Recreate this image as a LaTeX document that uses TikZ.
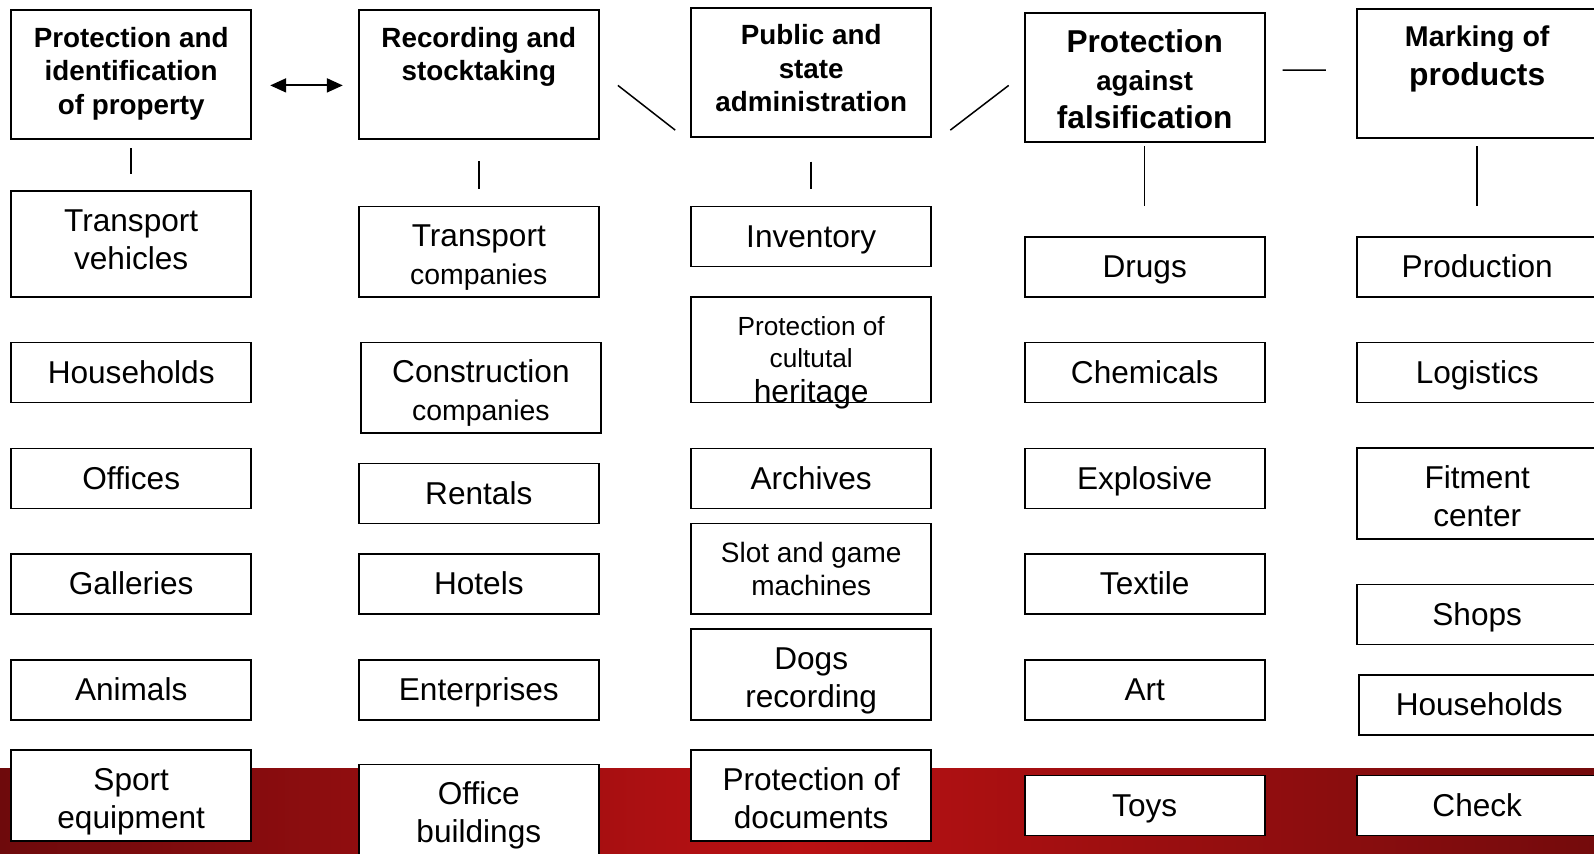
\documentclass[tikz,border=0pt]{standalone}
\usepackage{fontspec}
\setmainfont{Liberation Sans}
\usetikzlibrary{calc,arrows.meta}

\definecolor{bandL}{RGB}{110,10,12}
\definecolor{bandM}{RGB}{186,17,19}
\definecolor{bandR}{RGB}{116,11,12}

\newcommand{\headtext}[1]{\parbox[c][64.5pt][t]{118pt}{\centering\vspace*{8.5pt}#1}}
\newcommand{\smalltxt}{\fontsize{14.2}{19.2}\selectfont}
\newcommand{\itemstrut}{\rule[-4.2pt]{0pt}{19.2pt}}
\newcommand{\twolines}[2]{\raisebox{-1.5pt}[\height][\depth]{\parbox{118pt}{\centering\itemstrut#1\\#2\itemstrut}}}

\tikzset{
  head/.style={draw, fill=white, line width=0.8pt, inner sep=0pt, minimum width=120pt,
    minimum height=64.5pt, font=\bfseries\fontsize{13.9}{16.7}\selectfont},
  item/.style={draw, fill=white, line width=0.8pt, inner sep=1pt, minimum width=120pt,
    minimum height=30pt, align=center, font=\fontsize{15.8}{19.2}\selectfont,
    execute at begin node=\itemstrut, execute at end node=\itemstrut},
  tall/.style={item, minimum height=45.25pt},
  taller/.style={item, minimum height=52.85pt},
  link/.style={line width=0.75pt},
  >={Triangle[length=8pt,width=7pt]}
}

\begin{document}
\begin{tikzpicture}[x=0.5pt, y=-0.5pt]
  \clip (0,0) rectangle (1594,853);
  \fill[white] (0,0) rectangle (1594,853);
  % red band at the foot
  \shade[left color=bandL, right color=bandR, middle color=bandM] (0,768) rectangle (1594,853);

  % headers
  \node[head] (h1) at (131.2,74.7) {\headtext{Protection and\\identification\\of property}};
  \node[head] (h2) at (478.8,74.7) {\headtext{Recording and\\stocktaking}};
  \node[head] (h3) at (811.2,72.2) {\headtext{Public and\\state\\administration}};
  \node[head] (h4) at (1144.7,77.3) {\headtext{\fontsize{15.8}{19}\selectfont Protection\\{\fontsize{13.8}{19}\selectfont against}\\falsification}};
  \node[head] (h5) at (1477.2,73.7) {\headtext{\fontsize{14.3}{19.3}\selectfont Marking of\\{\fontsize{15.9}{19.3}\selectfont products}}};

  % column 1
  \node[taller] (a1) at (131.2,244) {Transport\\vehicles};
  \node[item] (a2) at (131.2,372.6) {Households};
  \node[item] (a3) at (131.2,478.3) {Offices};
  \node[item] (a4) at (131.2,584) {Galleries};
  \node[item] (a5) at (131.2,689.8) {Animals};
  \node[tall] (a6) at (131.2,795.5) {\twolines{Sport}{equipment}};

  % column 2
  \node[tall] (b1) at (478.8,251.6) {\twolines{Transport}{{\smalltxt companies}}};
  \node[tall] (b2) at (480.9,387.8) {\twolines{Construction}{{\smalltxt companies}}};
  \node[item] (b3) at (478.8,493.5) {Rentals};
  \node[item] (b4) at (478.8,584) {Hotels};
  \node[item] (b5) at (478.8,689.8) {Enterprises};
  \node[tall] (b6) at (478.8,809.7) {\twolines{Office}{buildings}};

  % column 3
  \node[item] (c1) at (811.2,236.4) {Inventory};
  \node[taller] (c2) at (811.2,349.7) {\raisebox{-6.5pt}[\height][\depth]{\parbox{116pt}{\centering\fontsize{13.1}{16}\selectfont Protection of\\cultutal\\[1.8pt]{\fontsize{15.9}{18}\selectfont heritage}}}};
  \node[item] (c3) at (811.2,478.3) {Archives};
  \node[tall, font=\fontsize{14}{16.3}\selectfont] (c4) at (811.2,568.8) {\raisebox{0.3pt}[\height][\depth]{\parbox{118pt}{\centering\itemstrut Slot and game\\machines\rule[-4.2pt]{0pt}{0pt}}}};
  \node[tall] (c5) at (811.2,674.5) {\twolines{Dogs}{recording}};
  \node[tall] (c6) at (811.2,795.5) {\twolines{Protection of}{documents}};

  % column 4
  \node[item] (d1) at (1144.7,266.9) {Drugs};
  \node[item] (d2) at (1144.7,372.6) {Chemicals};
  \node[item] (d3) at (1144.7,478.3) {Explosive};
  \node[item] (d4) at (1144.7,584) {Textile};
  \node[item] (d5) at (1144.7,689.8) {Art};
  \node[item] (d6) at (1144.7,805.6) {Toys};

  % column 5
  \node[item] (e1) at (1477.2,266.9) {Production};
  \node[item] (e2) at (1477.2,372.6) {Logistics};
  \node[tall] (e3) at (1477.2,493.5) {\twolines{Fitment}{center}};
  \node[item] (e4) at (1477.2,614.5) {Shops};
  \node[item] (e5) at (1479.2,705) {Households};
  \node[item] (e6) at (1477.2,805.6) {Check};

  % links
  \draw[link, shorten <=4pt, shorten >=8pt] (h1.south) -- (a1.north);
  \draw[link, shorten <=10.7pt, shorten >=8.2pt] (h2.south) -- (b1.north);
  \draw[link, shorten <=12pt, shorten >=8.2pt] (h3.south) -- (c1.north);
  \draw[link, shorten <=1.8pt, shorten >=15.3pt] (h4.south) -- (d1.north);
  \draw[link, shorten <=3.6pt, shorten >=15.3pt] (h5.south) -- (e1.north);

  \draw[link, line width=1pt, <->] ($(h1.east)+(18.2,10.7)$) -- ($(h2.west)+(-15.2,10.7)$);
  \draw[link] ($(h2.east)+(18.3,10.7)$) -- ($(h3.west)+(-15.2,57.9)$);
  \draw[link] ($(h3.east)+(18.3,57.9)$) -- ($(h4.west)+(-15.2,8.1)$);
  \draw[link] ($(h4.east)+(17.2,-7.2)$) -- ($(h5.west)+(-30.5,-3.6)$);
\end{tikzpicture}
\end{document}
